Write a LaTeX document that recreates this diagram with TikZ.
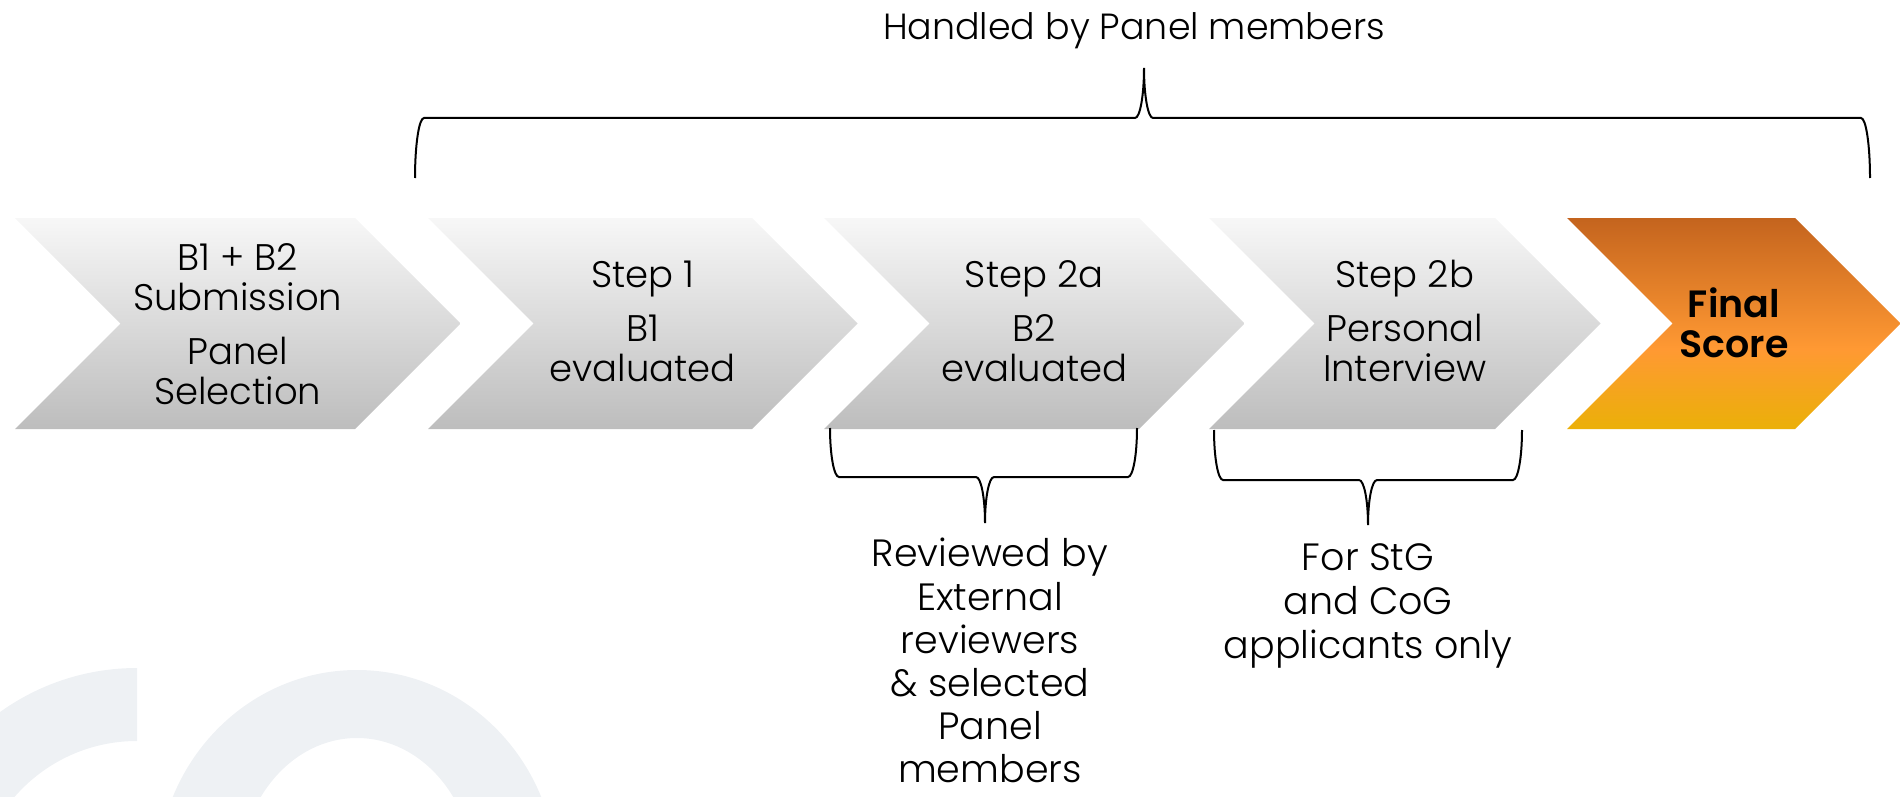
\documentclass[tikz,border=0pt]{standalone}
\usepackage{fontspec}
\setmainfont{Poppins}[UprightFont=* Light, BoldFont=* SemiBold]
\usepackage{tikz}
\definecolor{graytop}{RGB}{247,247,247}
\definecolor{graybot}{RGB}{189,189,189}
\definecolor{orgtop}{RGB}{196,100,30}
\definecolor{orgmid}{RGB}{255,153,51}
\definecolor{orgbot}{RGB}{235,176,8}
\definecolor{logogray}{RGB}{238,241,244}
\pgfdeclareverticalshading{finalfill}{100bp}{color(0bp)=(orgbot); color(25bp)=(orgbot);
  color(44bp)=(orgmid); color(75bp)=(orgtop); color(100bp)=(orgtop)}
\newcommand{\tstrut}{\rule[-0.28em]{0pt}{1.05em}}
% #1 left x, #2 right x, #3 tip x, #4 end y, #5 bar y, #6 tip y
\newcommand{\curly}[6]{%
  \draw[braceline] (#1,#4) .. controls (#1,{#4+.55*(#5-#4)}) and ({#1+4},#5) .. ({#1+9},#5)
    -- ({#3-9},#5) .. controls ({#3-4},#5) and (#3,{#5+.45*(#6-#5)}) .. (#3,#6)
    .. controls (#3,{#5+.45*(#6-#5)}) and ({#3+4},#5) .. ({#3+9},#5)
    -- ({#2-9},#5) .. controls ({#2-4},#5) and (#2,{#4+.55*(#5-#4)}) .. (#2,#4);
}

\begin{document}
\begin{tikzpicture}[x=0.5pt, y=-0.5pt,
		steptext/.style={align=center, inner sep=0pt, font=\fontsize{18.5}{20}\selectfont,
			execute at begin node=\tstrut, execute at end node=\tstrut},
		notetext/.style={align=center, inner sep=0pt, font=\fontsize{19}{22}\selectfont,
			execute at begin node=\tstrut, execute at end node=\tstrut},
		grayfill/.style={top color=graytop, bottom color=graybot, draw=none},
		braceline/.style={draw=black, line width=1pt}]
		\useasboundingbox (0,0) rectangle (1901,797);
		% watermark
		\begin{scope}
			\clip (0,0) rectangle (137,797);
			\fill[logogray, even odd rule] (137,903) circle[radius=235] (137,903) circle[radius=162];
		\end{scope}
		\begin{scope}
			\clip (0,0) rectangle (1901,797);
			\fill[logogray, even odd rule] (357,878) ellipse[x radius=200, y radius=208]
				(357,878) ellipse[x radius=118, y radius=140];
		\end{scope}
		% chevrons
		\foreach \l/\r/\y/\n/\t in {15/355/329/sub/{B1 + B2\\Submission\\[7pt]Panel\\Selection},
				428/752/326/one/{Step 1\\[7pt]B1\\evaluated},
				824/1139/326/twoa/{Step 2a\\[7pt]B2\\evaluated},
				1209/1495/326/twob/{Step 2b\\[7pt]Personal\\Interview}} {
			\shade[grayfill] (\l,218) -- (\r,218) -- ({\r+105.5},323.5) -- (\r,429)
				-- (\l,429) -- ({\l+105.5},323.5) -- cycle;
			\node[steptext] (\n) at ({(\l+\r+105.5)/2},\y) {\t};
		};
		\shade[shading=finalfill] (1567,218) -- (1795,218) -- (1900.5,323.5) -- (1795,429)
			-- (1567,429) -- (1672.5,323.5) -- cycle;
		\node[steptext, font=\fontsize{19}{20}\selectfont\bfseries] (final) at (1734,328) {Final\\Score};
		% braces
		\curly{415}{1870}{1144}{178}{118}{68}
		\curly{830}{1137}{985}{428}{477}{523}
		\curly{1214}{1522}{1368}{430}{480}{525}
		\node[notetext, font=\fontsize{18.2}{22}\selectfont, anchor=base] (panel) at (1134,40) {Handled by Panel members};
		\node[notetext, font=\fontsize{19}{21.6}\selectfont, anchor=north, execute at end node={}] (external) at (990,538)
			{Reviewed by\\External\\reviewers\\\& selected\\Panel\\members};
		\node[notetext, anchor=north] (stg) at (1368,543) {For StG\\and CoG\\applicants only};
	\end{tikzpicture}
\end{document}
